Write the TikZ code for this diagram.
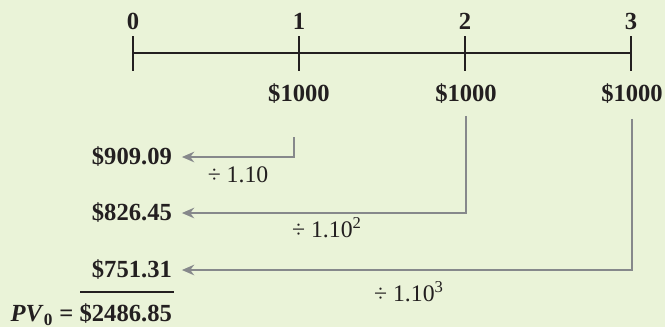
\documentclass[tikz,border=0pt]{standalone}
\usepackage{fontspec}
\setmainfont{Liberation Serif}
\usepackage{xcolor}
\usepackage{tikz}
\usetikzlibrary{arrows.meta,positioning,calc}
\definecolor{bgpanel}{HTML}{EAF3D8}
\definecolor{flowgray}{HTML}{86888B}
\definecolor{inkdark}{HTML}{231F20}

\begin{document}
\begin{tikzpicture}[
  yr/.style={font=\bfseries\fontsize{14}{16}\selectfont, text=inkdark, inner sep=1pt},
  cash/.style={font=\bfseries\fontsize{14}{16}\selectfont, text=inkdark, inner sep=1pt},
  pv/.style={font=\bfseries\fontsize{14}{16}\selectfont, text=inkdark, anchor=east, inner sep=1pt},
  fac/.style={font=\fontsize{13.5}{16}\selectfont, text=inkdark, inner sep=1pt},
  flow/.style={draw=flowgray, line width=1.1pt, -{Stealth[length=7pt,width=6pt]}, shorten >=4.5pt},
  axis/.style={draw=inkdark, line width=0.8pt},
]
\fill[bgpanel] (0,0) rectangle (13.3,-6.54);
\useasboundingbox (0,0) rectangle (13.3,-6.54);

% Timeline
\draw[axis] (2.66,-1.06) -- (12.62,-1.06);
\foreach \i/\x in {0/2.66,1/5.98,2/9.30,3/12.62}{
  \draw[axis] (\x,-0.72) -- (\x,-1.42);
  \node[yr] (t\i) at (\x,-0.42) {\i};
}

% Cash flows
\node[cash] (cf1) at (5.98,-1.88) {\$1000};
\node[cash] (cf2) at (9.32,-1.88) {\$1000};
\node[cash] (cf3) at (12.64,-1.88) {\$1000};

% Present values
\node[pv] (pv1) at (3.48,-3.14) {\$909.09};
\node[pv] (pv2) at (3.48,-4.26) {\$826.45};
\node[pv] (pv3) at (3.48,-5.40) {\$751.31};
\node[pv] (tot) at (3.48,-6.30) {\textit{PV}\textsubscript{0} = \$2486.85};
\draw[axis] (1.60,-5.84) -- (3.48,-5.84);

% Discounting
\coordinate (c1) at (5.88,-2.74);
\draw[flow] (c1) |- (pv1.east);
\draw[flow, shorten <=0.2cm] (cf2.south) |- (pv2.east);
\draw[flow, shorten <=0.26cm] (cf3.south) |- (pv3.east);
\node[fac] (d1) at (4.76,-3.50) {÷ 1.10};
\node[fac] (d2) at (6.54,-4.56) {÷ 1.10\textsuperscript{2}};
\node[fac] (d3) at (8.18,-5.84) {÷ 1.10\textsuperscript{3}};
\end{tikzpicture}
\end{document}
